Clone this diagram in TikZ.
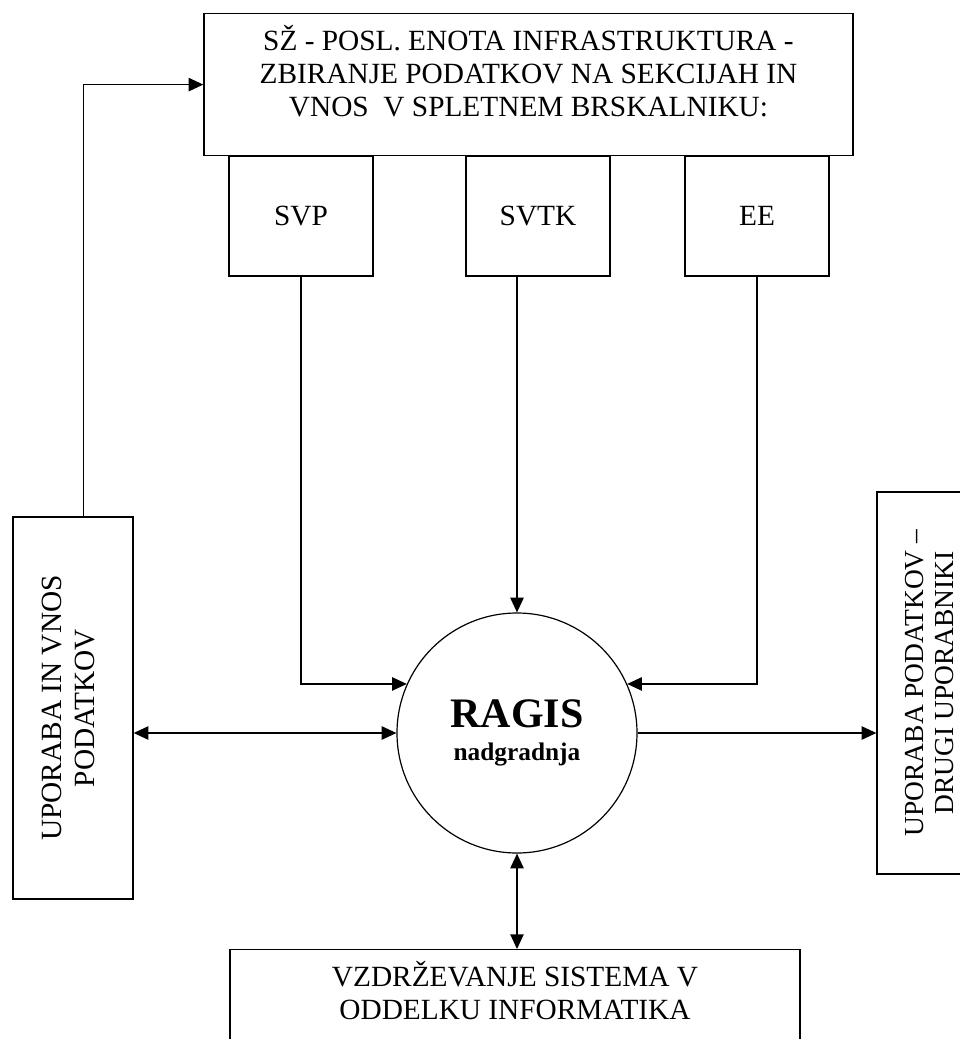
\documentclass[tikz,border=0pt]{standalone}
\usepackage{fontspec}
\setmainfont{Liberation Serif}
\usetikzlibrary{arrows.meta}

\begin{document}
\begin{tikzpicture}[x=0.75pt,y=-0.75pt,
  box/.style={draw,line width=1pt,inner xsep=0pt,inner ysep=9pt,align=center,
    font=\fontsize{22}{24.75}\selectfont},
  sidebox/.style={box,rotate=90,inner sep=0pt,minimum width=286.5pt,minimum height=90pt},
  smallbox/.style={box,minimum width=108pt,minimum height=90pt},
  arr/.style={line width=1pt,-{Triangle[length=11pt,width=10pt]}},
  dbl/.style={line width=1pt,{Triangle[length=11pt,width=10pt]}-{Triangle[length=11pt,width=10pt]}}]
  \useasboundingbox (0,0) rectangle (960,1039);

  \node[box,anchor=north,minimum width=486.75pt,text depth=20pt] (sz) at (528.5,13)
    {SŽ - POSL. ENOTA INFRASTRUKTURA -\\ZBIRANJE PODATKOV NA SEKCIJAH IN\\VNOS\ \ V SPLETNEM BRSKALNIKU:};

  \node[smallbox] (svp) at (301,216) {SVP};
  \node[smallbox] (svtk) at (538,216) {SVTK};
  \node[smallbox] (ee) at (757,216) {EE};

  \node[draw,circle,line width=0.9pt,minimum size=180pt,inner sep=0pt,align=center,
    font=\fontsize{19}{24.75}\selectfont\bfseries] (ragis) at (517,733)
    {{\fontsize{31.5}{36}\selectfont RAGIS}\\nadgradnja};

  \node[sidebox,text depth=7pt] (vnos) at (73,708) {UPORABA IN VNOS\\PODATKOV};
  \node[sidebox,minimum height=79.5pt,font=\fontsize{20.6}{22.5}\selectfont] (drugi) at (930,683)
    {UPORABA PODATKOV –\\DRUGI UPORABNIKI};

  \node[box,anchor=north,minimum width=427.5pt,text depth=60pt] (vzd) at (515,949)
    {VZDRŽEVANJE SISTEMA V\\ODDELKU INFORMATIKA};

  \draw[arr] ([xshift=8pt]vnos.east) |- (sz.west);
  \draw[arr] (svp.south) |- (ragis.156);
  \draw[arr] (svtk.south -| ragis.north) -- (ragis.north);
  \draw[arr] (ee.south) |- (ragis.24);
  \draw[dbl] (vnos.south |- ragis.west) -- (ragis.west);
  \draw[arr] (ragis.east) -- (ragis.east -| drugi.north);
  \draw[dbl] (ragis.south) -- (ragis.south |- vzd.north);
\end{tikzpicture}
\end{document}
